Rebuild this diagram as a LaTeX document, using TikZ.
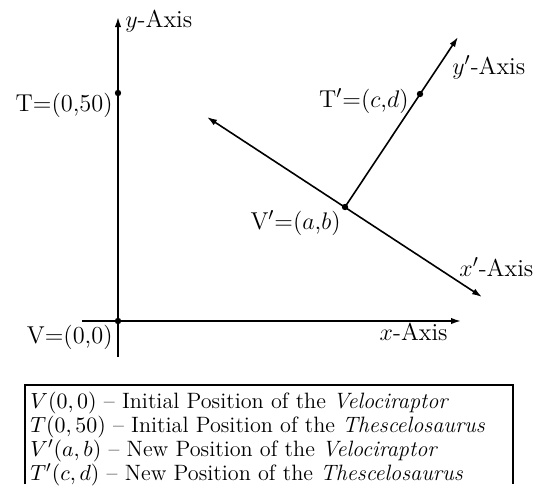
\documentclass[tikz,border=0pt]{standalone}
\usetikzlibrary{arrows.meta}
\begin{document}
\begin{tikzpicture}[x=0.5pt,y=-0.5pt,
  axis/.style={line width=0.8pt,-{Latex[length=5pt,width=3.2pt]}},
  axisboth/.style={line width=0.8pt,{Latex[length=5pt,width=3.2pt]}-{Latex[length=5pt,width=3.2pt]}},
  lbl/.style={inner sep=0pt,font=\fontsize{12.2}{14}\selectfont},
  dot/.style={circle,fill,inner sep=0pt,minimum size=3.2pt},
  frame/.style={line width=0.8pt}]
\useasboundingbox (0,0) rectangle (539,493);
% original axes
\coordinate (O) at (118,321);
\coordinate (ytop) at (118,17);
\coordinate (ybot) at (118,357);
\coordinate (xl) at (82,321);
\coordinate (xr) at (461,321);
\draw[axis] (ybot) -- (ytop);
\draw[axis] (xl) -- (xr);
\node[dot] (V) at (O) {};
\node[dot] (T) at (118,93) {};
\node[lbl,anchor=west] (ylab) at (125,21) {$y$-Axis};
\node[lbl,anchor=east] (Tlab) at (113,105) {T=(0,50)};
\node[lbl,anchor=east] (Vlab) at (113,337) {V=(0,0)};
\node[lbl,anchor=east] (xlab) at (448,332) {$x$-Axis};
% new axes
\coordinate (Vp) at (345,207);
\coordinate (xpl) at (207,117);
\coordinate (xpr) at (482,297);
\coordinate (ypt) at (458,37);
\draw[axisboth] (xpl) -- (xpr);
\draw[axis] (Vp) -- (ypt);
\node[dot] (Vpd) at (Vp) {};
\node[dot] (Tpd) at (420,94) {};
\node[lbl,anchor=west] (yplab) at (452,67) {$y'$-Axis};
\node[lbl,anchor=east] (Tplab) at (409,101) {T$'$=($c$,$d$)};
\node[lbl,anchor=east] (Vplab) at (341,223) {V$'$=($a$,$b$)};
\node[lbl,anchor=west] (xplab) at (459,267) {$x'$-Axis};
% legend
\coordinate (bl) at (25,484);
\coordinate (tl) at (25,385);
\coordinate (tr) at (513,385);
\coordinate (br) at (513,484);
\draw[frame] (bl) -- (tl) -- (tr) -- (br);
\node[inner sep=0pt,anchor=north west,align=left,font=\fontsize{11.1}{12}\selectfont] (legend) at (30,392) {%
$V(0,0)$ -- Initial Position of the \textit{Velociraptor}\\
$T(0,50)$ -- Initial Position of the \textit{Thescelosaurus}\\
$V'(a,b)$ -- New Position of the \textit{Velociraptor}\\
$T'(c,d)$ -- New Position of the \textit{Thescelosaurus}};
\end{tikzpicture}
\end{document}
